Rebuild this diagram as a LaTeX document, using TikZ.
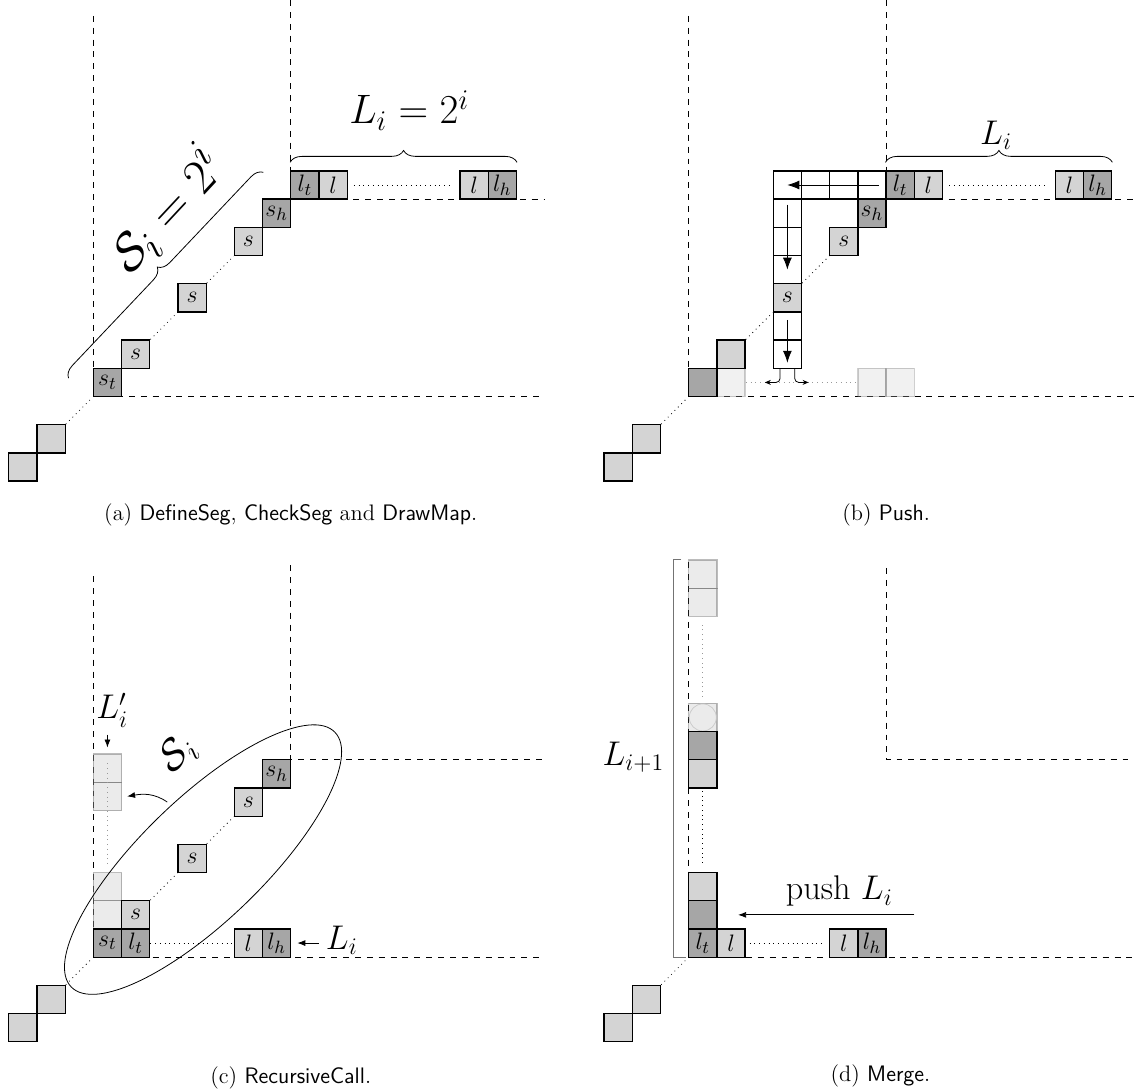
\documentclass[tikz,border=0pt]{standalone}
\usepackage{tikz}
\usetikzlibrary{shapes.geometric, positioning, arrows.meta,
                decorations.pathreplacing, calc}
\usepackage{amsmath}

\begin{document}
\begin{tikzpicture}[x=0.5cm, y=0.5cm,
      cell/.style={rectangle, draw, line width=0.65pt, minimum size=5mm,
                   inner sep=0pt, font=\fontsize{13.2}{16}\selectfont},
      lite/.style={cell, fill=black!17},
      dark/.style={cell, fill=black!35},
      blank/.style={cell, fill=white},
      ghost/.style={cell, fill=black!22, draw=black!75, opacity=0.35},
      gridline/.style={dashed, line width=0.5pt},
      dots/.style={dotted, thin},
      faint/.style={dotted, thin, black!40},
      brc/.style={decorate, decoration={brace, amplitude=6pt}},
      arr/.style={-{Latex[length=4pt, width=3pt]}, thin},
      bigarr/.style={-{Latex[length=6pt, width=4.5pt]}, thin},
      smallarr/.style={-{Stealth[length=3pt, width=2.5pt]}, thin},
      brk/.style={black!55, semithick},
      biglbl/.style={font=\LARGE},
      hugelbl/.style={font=\fontsize{22}{26}\selectfont},
      captxt/.style={font=\fontsize{11.3}{13.5}\selectfont}
    ]
    \useasboundingbox (0,0) rectangle (40.21,38.72);

    %--- (a) DefineSeg, CheckSeg and DrawMap ---
    \begin{scope}[shift={(3.31,24.66)}]
      \draw[gridline] (0,13.5) -- (0,0) -- (16,0);
      \draw[gridline] (7,14.06) -- (7,7) -- (16,7);
      \foreach \n/\x/\y/\sty/\txt in {p2/-3/-3/lite/, p1/-2/-2/lite/,
          st/0/0/dark/s_t, s1/1/1/lite/s, s2/3/3/lite/s, s3/5/5/lite/s,
          sh/6/6/dark/s_h, lt/7/7/dark/l_t, l1/8/7/lite/l,
          l2/13/7/lite/l, lh/14/7/dark/l_h}
        \node[\sty] (a-\n) at (\x+0.5,\y+0.5) {$\txt$};
      \draw[dots] (a-p1.north east) -- (a-st.south west);
      \draw[dots] (a-s1.north east) -- (a-s2.south west);
      \draw[dots] (a-s2.north east) -- (a-s3.south west);
      \draw[dots, shorten <=3pt, shorten >=3pt] (a-l1.east) -- (a-l2.west);

      \draw[brc] ([yshift=4pt]a-lt.north west) -- ([yshift=4pt]a-lh.north east);
      \node[hugelbl] (a-Li) at (11.2,10.15) {$L_i = 2^i$};

      \coordinate (a-b1) at (-0.88,0.65);
      \coordinate (a-b2) at (6.03,7.95);
      \draw[brc] (a-b1) -- (a-b2);
      \node[font=\Huge, rotate=47] (a-Si) at (2.6,6.6) {$\mathcal{S}_i = 2^i$};

      \node[captxt] (a-cap) at (7,-4.2)
            {(a) \textsf{DefineSeg}, \textsf{CheckSeg} and \textsf{DrawMap}.};
    \end{scope}

    %--- (b) Push ---
    \begin{scope}[shift={(24.42,24.66)}]
      \draw[gridline] (0,13.5) -- (0,0) -- (15.8,0);
      \draw[gridline] (7,14.06) -- (7,7) -- (15.8,7);
      \foreach \n/\x in {g0/1, g1/6, g2/7}
        \node[ghost, opacity=0.25] (b-\n) at (\x+0.5,0.5) {};
      \draw[faint] (b-g0.east) -- (b-g1.west);
      \foreach \n/\x/\y/\sty/\txt in {p2/-3/-3/lite/, p1/-2/-2/lite/,
          c0/0/0/dark/, s1/1/1/lite/, v1/3/1/blank/, v2/3/2/blank/,
          s2/3/3/lite/s, v4/3/4/blank/, v5/3/5/blank/, v6/3/6/blank/,
          h3/3/7/blank/, h4/4/7/blank/, h5/5/7/blank/, h6/6/7/blank/,
          s3/5/5/lite/s, sh/6/6/dark/s_h, lt/7/7/dark/l_t,
          l1/8/7/lite/l, l2/13/7/lite/l, lh/14/7/dark/l_h}
        \node[\sty] (b-\n) at (\x+0.5,\y+0.5) {$\txt$};
      \draw[dots] (b-p1.north east) -- (b-c0.south west);
      \draw[dots] (b-s1.north east) -- (b-s2.south west);
      \draw[dots] (b-s2.north east) -- (b-s3.south west);
      \draw[dots, shorten <=3pt, shorten >=3pt] (b-l1.east) -- (b-l2.west);

      \draw[bigarr] ([xshift=3.4pt]b-h6.center) -- (b-h3.center);
      \draw[bigarr] ([yshift=4.3pt]b-v6.center) -- (b-v4.center);
      \draw[bigarr] ([yshift=-4.3pt]b-v2.north) -- ([yshift=-4.3pt]b-v1.center);

      \coordinate (b-e1) at (2.7,0.5);
      \coordinate (b-e2) at (4.25,0.5);
      \draw[smallarr, rounded corners=2pt] ([xshift=-3.7pt]b-v1.south) |- (b-e1);
      \draw[smallarr, rounded corners=2pt] ([xshift=3.7pt]b-v1.south) |- (b-e2);

      \draw[brc] ([yshift=4pt]b-lt.north west) -- ([yshift=4pt]b-lh.north east);
      \node[biglbl] (b-Li) at (10.9,9.25) {$L_i$};

      \node[captxt] (b-cap) at (7,-4.2) {(b) \textsf{Push}.};
    \end{scope}

    %--- (c) RecursiveCall ---
    \begin{scope}[shift={(3.31,4.78)}]
      \draw[gridline] (0,13.5) -- (0,0) -- (16,0);
      \draw[gridline] (7,13.9) -- (7,7) -- (16,7);
      \foreach \n/\y in {g1/1.5, g2/2.5, g3/5.7, g4/6.7}
        \node[ghost] (c-\n) at (0.5,\y) {};
      \draw[faint] ([yshift=2.5pt]c-g4.center) -- ([yshift=4pt]c-g2.north);
      \foreach \n/\x/\y/\sty/\txt in {p2/-3/-3/lite/, p1/-2/-2/lite/,
          st/0/0/dark/s_t, lt/1/0/dark/l_t, s1/1/1/lite/s,
          s2/3/3/lite/s, s3/5/5/lite/s, sh/6/6/dark/s_h,
          l1/5/0/lite/l, lh/6/0/dark/l_h}
        \node[\sty] (c-\n) at (\x+0.5,\y+0.5) {$\txt$};
      \draw[dots] (c-p1.north east) -- (c-st.south west);
      \draw[dots] (c-s1.north east) -- (c-s2.south west);
      \draw[dots] (c-s2.north east) -- (c-s3.south west);
      \draw[dots] (c-lt.east) -- (c-l1.west);

      \node[draw, thin, ellipse, rotate=44, minimum width=6.5cm,
            minimum height=2.17cm, inner sep=0pt] (c-oval) at (3.89,3.46) {};
      \node[font=\huge, rotate=44] (c-Si) at (3.0,7.2) {$\mathcal{S}_i$};
      \coordinate (c-a0) at (2.62,5.5);
      \draw[arr] (c-a0) to[out=145, in=10] ([xshift=2.5pt]c-g3.east);

      \node[biglbl, anchor=west] (c-Li) at (8.0,0.6) {$L_i$};
      \draw[arr] (c-Li.west |- c-lh.east) -- ([xshift=3pt]c-lh.east);
      \node[biglbl] (c-Lp) at (0.67,8.75) {$L'_i$};
      \draw[arr] (c-Lp.south -| c-g4.north) -- ([yshift=3pt]c-g4.north);

      \node[captxt] (c-cap) at (7,-4.28) {(c) \textsf{RecursiveCall}.};
    \end{scope}

    %--- (d) Merge ---
    \begin{scope}[shift={(24.42,4.78)}]
      \draw[gridline] (0,14) -- (0,0) -- (15.8,0);
      \draw[gridline] (7,13.8) -- (7,7) -- (15.8,7);
      \foreach \n/\y in {g1/8.5, g2/12.58, g3/13.58}
        \node[ghost] (d-\n) at (0.5,\y) {};
      \draw[black!20] (d-g1) circle (0.48);
      \draw[faint] ([yshift=3pt]d-g1.north) -- ([yshift=-3pt]d-g2.south);
      \foreach \n/\x/\y/\sty/\txt in {p2/-3/-3/lite/, p1/-2/-2/lite/,
          lt/0/0/dark/l_t, l1/1/0/lite/l, l2/5/0/lite/l, lh/6/0/dark/l_h,
          c1/0/1/dark/, c2/0/2/lite/, c6/0/6/lite/, c7/0/7/dark/}
        \node[\sty] (d-\n) at (\x+0.5,\y+0.5) {$\txt$};
      \draw[dots] (d-p1.north east) -- (d-lt.south west);
      \draw[dots] ([yshift=4.5pt]d-c2.north) -- (d-c6.south);
      \draw[dots, shorten <=2pt, shorten >=2pt] (d-l1.east) -- (d-l2.west);

      \draw[brk] ([xshift=-3.5pt]d-g3.north west) -- ++(-3.7pt,0)
                 |- ([xshift=-1pt]d-lt.south west);
      \node[biglbl] (d-Lnext) at (-1.96,7.1) {$L_{i+1}$};

      \node[biglbl, anchor=base] (d-push) at (5.34,2.03) {push $L_i$};
      \coordinate (d-a0) at (8,1.5);
      \draw[arr] (d-a0) -- ([xshift=10.4pt]d-c1.east);

      \node[captxt] (d-cap) at (6.8,-4.2) {(d) \textsf{Merge}.};
    \end{scope}
  \end{tikzpicture}
\end{document}
